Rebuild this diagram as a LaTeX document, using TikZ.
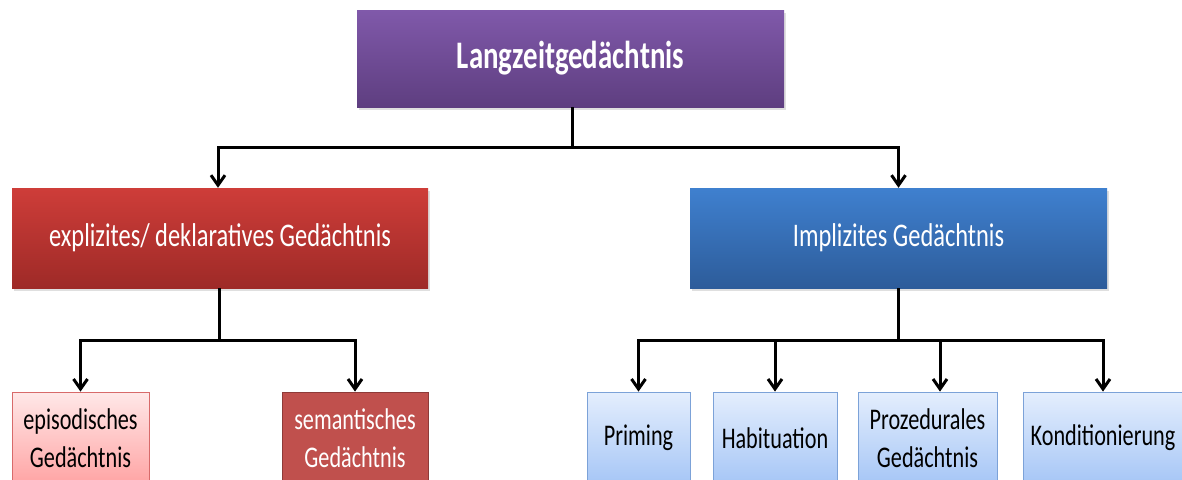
\documentclass[tikz,border=0pt]{standalone}
\usepackage{fontspec}
\setmainfont{Carlito}[FakeStretch=0.74]
\usetikzlibrary{arrows.meta,shadows,calc}
\definecolor{purpT}{HTML}{8059AA}
\definecolor{purpB}{HTML}{5E3E80}
\definecolor{redT}{HTML}{CE3D39}
\definecolor{redB}{HTML}{9E2A27}
\definecolor{bluT}{HTML}{3F80CF}
\definecolor{bluB}{HTML}{2D5C9A}
\definecolor{pinkT}{HTML}{FFE8E8}
\definecolor{pinkB}{HTML}{FFA4A4}
\definecolor{pinkD}{HTML}{D86A6A}
\definecolor{semF}{HTML}{C0504D}
\definecolor{semD}{HTML}{8E3A38}
\definecolor{lbT}{HTML}{E4EEFD}
\definecolor{lbB}{HTML}{A6C6F6}
\definecolor{lbD}{HTML}{7CA2D8}
\tikzset{
  bigbox/.style={rectangle, inner sep=0pt, align=center, text=white,
    drop shadow={opacity=0.25, shadow xshift=1.5pt, shadow yshift=-2.5pt}},
  smallbox/.style={rectangle, inner sep=0pt, align=center, line width=0.8pt,
    font=\fontsize{30}{38}\selectfont, minimum height=92pt},
  conn/.style={line width=3pt, draw=black},
  arr/.style={conn, -{Straight Barb[length=10pt,width=14pt,line width=3pt]}}
}
\begin{document}
\begin{tikzpicture}[x=1pt,y=-1pt]
\clip (0,0) rectangle (1182,479);
\fill[white] (0,0) rectangle (1182,479);

\node[bigbox, top color=purpT, bottom color=purpB, minimum width=427pt, minimum height=97pt,
  font=\fontsize{39}{44}\bfseries\selectfont] (top) at (570.5,58.5) {Langzeitgedächtnis};
\node[bigbox, top color=redT, bottom color=redB, minimum width=416pt, minimum height=100pt,
  font=\fontsize{33}{38}\selectfont] (red) at (220,238) {explizites/ deklaratives Gedächtnis};
\node[bigbox, top color=bluT, bottom color=bluB, minimum width=417pt, minimum height=100pt,
  font=\fontsize{33}{38}\selectfont] (blue) at (898.5,238) {Implizites Gedächtnis};

\node[smallbox, draw=pinkD, top color=pinkT, bottom color=pinkB, minimum width=137pt] (epi) at (80.5,438) {episodisches\\Gedächtnis};
\node[smallbox, draw=semD, fill=semF, text=white, minimum width=146pt] (sem) at (355,438) {semantisches\\Gedächtnis};

\node[smallbox, draw=lbD, top color=lbT, bottom color=lbB, minimum width=103pt] (prim) at (638.5,438) {Priming};
\node[smallbox, draw=lbD, top color=lbT, bottom color=lbB, minimum width=124pt] (habi) at (775,438) {Habituation};
\node[smallbox, draw=lbD, top color=lbT, bottom color=lbB, minimum width=139pt] (proz) at (927.5,438) {Prozedurales\\Gedächtnis};
\node[smallbox, draw=lbD, top color=lbT, bottom color=lbB, minimum width=160pt] (kond) at (1103,438) {Konditionierung};

\coordinate (tj) at ($(top.south)+(1.5,40)$);
\draw[conn] ([xshift=1.5pt]top.south) -- (tj);
\draw[arr] (tj) -| ([xshift=-2pt]red.north);
\draw[arr] (tj) -| (blue.north);

\coordinate (lj) at ($(red.south)+(-1,52)$);
\draw[conn] ([xshift=-1pt]red.south) -- (lj);
\draw[arr] (lj) -| (epi.north);
\draw[arr] (lj) -| (sem.north);

\coordinate (rj) at ($(blue.south)+(0,52)$);
\draw[conn] (blue.south) -- (rj);
\draw[arr] (rj) -| (prim.north);
\draw[arr] (rj) -| (habi.north);
\draw[arr] (rj) -| ([xshift=12.5pt]proz.north);
\draw[arr] (rj) -| (kond.north);
\end{tikzpicture}
\end{document}
